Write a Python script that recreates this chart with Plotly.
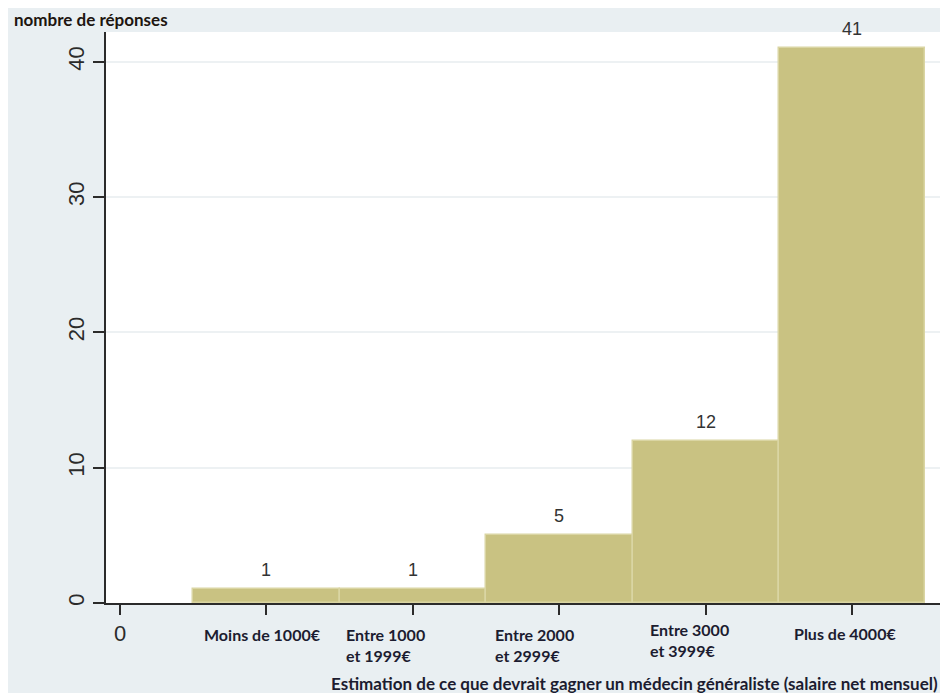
import plotly.graph_objects as go

# Data
categories = ["Moins de 1000€", "Entre 1000<br>et 1999€", "Entre 2000<br>et 2999€",
              "Entre 3000<br>et 3999€", "Plus de 4000€"]
positions = [1, 2, 3, 4, 5]
counts = [1, 1, 5, 12, 41]
y_ticks = [0, 10, 20, 30, 40]

BG = "#e9eff2"
BAR = "#c9c282"
BAR_EDGE = "#dad5a3"
INK = "#2b2b2b"
LABEL_INK = "#1c1c30"

fig = go.Figure()
fig.add_trace(go.Bar(
    x=positions, y=counts, width=1.0,
    marker=dict(color=BAR, line=dict(color=BAR_EDGE, width=1.5)),
    hoverinfo="x+y", showlegend=False,
))

annotations = []
# value labels above bars
for x, v in zip(positions, counts):
    annotations.append(dict(x=x, y=v, xref="x", yref="y", text=str(v), showarrow=False,
                            yanchor="bottom", yshift=7,
                            font=dict(family="Liberation Sans, Arial", size=18, color="#333333")))
# category labels (placed as text boxes under the axis)
xshifts = [-3.5, -27, -25, -16, -7.5]
yshifts = [-20, -20, -20, -15, -19]
for x, lab, xs, ys in zip(positions, categories, xshifts, yshifts):
    text = "<b>" + lab.replace("<br>", "</b><br><b>") + "</b>"
    annotations.append(dict(x=x, y=0, xref="x", yref="paper", text=text, showarrow=False,
                            xanchor="center", yanchor="top", xshift=xs, yshift=ys, align="left",
                            font=dict(family="Lato", size=16, color=LABEL_INK)))
# axis titles
annotations.append(dict(x=1, y=0, xref="paper", yref="paper", showarrow=False,
                        text="<b>Estimation de ce que devrait gagner un médecin généraliste (salaire net mensuel)</b>",
                        xanchor="right", yanchor="middle", xshift=0, yshift=-80,
                        font=dict(family="Lato", size=17, color=LABEL_INK)))
annotations.append(dict(x=0, y=1, xref="paper", yref="paper", showarrow=False,
                        text="<b>nombre de réponses</b>",
                        xanchor="left", yanchor="middle", xshift=-94, yshift=13,
                        font=dict(family="Lato", size=17, color="#201510")))

fig.update_layout(
    width=940, height=685,
    margin=dict(l=98, r=8, t=24, b=90),
    paper_bgcolor=BG, plot_bgcolor="white",
    annotations=annotations,
    bargap=0,
    xaxis=dict(
        range=[-0.096, 5.6], tickvals=[0] + positions, ticktext=["0", "", "", "", "", ""],
        ticks="outside", ticklen=10, tickwidth=1.5, tickcolor=INK,
        showline=True, linecolor=INK, linewidth=1.5, showgrid=False, zeroline=False,
        tickfont=dict(family="Liberation Sans, Arial", size=22, color=INK),
    ),
    yaxis=dict(
        range=[0, 42.2], tickvals=y_ticks, tickangle=-90,
        ticks="outside", ticklen=11, tickwidth=1.5, tickcolor=INK,
        showline=True, linecolor=INK, linewidth=1.5,
        showgrid=True, gridcolor="#edf1f3", gridwidth=2, zeroline=False,
        tickfont=dict(family="Liberation Sans, Arial", size=22, color=INK),
    ),
)

fig.write_html("out.html")
